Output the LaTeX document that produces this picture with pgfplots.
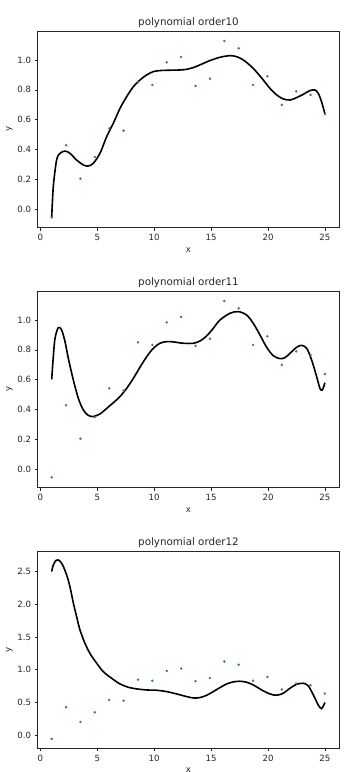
\documentclass[border=0pt]{standalone}
\usepackage{fontspec}
\setmainfont{DejaVu Sans}
\usepackage{pgfplots}
\usepackage{pgfplotstable}
\pgfplotsset{compat=1.18}
\definecolor{ptc}{HTML}{1F77B4}
\definecolor{txt}{HTML}{262626}

\pgfplotstableread{
x y
1.000 -0.054
2.263 0.429
3.526 0.205
4.789 0.350
6.053 0.542
7.316 0.527
8.579 0.850
9.842 0.833
11.105 0.984
12.368 1.020
13.632 0.826
14.895 0.875
16.158 1.127
17.421 1.078
18.684 0.833
19.947 0.891
21.211 0.699
22.474 0.790
23.737 0.766
25.000 0.638
}\pts

\pgfplotsset{
  myax/.style={
    width=301.6pt, height=196.7pt, scale only axis,
    anchor=south west,
    xmin=-0.23, xmax=26.26,
    xtick={0,5,10,15,20,25},
    tick align=outside, major tick length=3pt,
    tick style={txt, line width=0.6pt},
    axis line style={txt, line width=0.6pt},
    xtick pos=bottom, ytick pos=left,
    /pgf/number format/assume math mode=true,
    ticklabel style={font=\fontsize{8.6}{10}\selectfont, text=txt},
    label style={font=\fontsize{8.6}{10}\selectfont, text=txt},
    ylabel style={xshift=0pt, yshift=-2pt},
    title style={font=\fontsize{10.3}{12}\selectfont, text=txt, yshift=-6pt},
    xlabel={x}, ylabel={y},
    yticklabel style={/pgf/number format/.cd, fixed, fixed zerofill, precision=1},
    xticklabel style={/pgf/number format/.cd, fixed, precision=0},
  },
  pts/.style={only marks, mark=*, mark size=1pt, color=ptc},
  crv/.style={black, line width=1.6pt, smooth, tension=0.5, no marks},
}

\begin{document}
\begin{tikzpicture}
\begin{axis}[myax, at={(37.7pt,544.3pt)}, ymin=-0.123, ymax=1.194,
  ytick={0,0.2,0.4,0.6,0.8,1.0}, title={polynomial order10}]
\addplot[crv] coordinates {
(1.00,-0.054) (1.14,0.152) (1.43,0.33) (1.73,0.375) (2.17,0.39) (2.6,0.375)
(3.19,0.33) (3.78,0.297) (4.2,0.29) (4.65,0.308) (5.24,0.375) (5.83,0.487)
(6.41,0.576) (7.0,0.676) (7.58,0.754) (8.17,0.821) (8.75,0.866) (9.34,0.9)
(9.92,0.922) (10.5,0.929) (11.1,0.931) (12.27,0.933) (12.85,0.9375) (13.44,0.949)
(14.02,0.967) (14.9,0.996) (15.78,1.018) (16.66,1.029) (17.24,1.022) (17.83,1.0)
(18.7,0.944) (19.58,0.866) (20.17,0.81) (20.76,0.766) (21.34,0.739) (21.93,0.732)
(22.51,0.748) (23.1,0.77) (23.68,0.795) (24.12,0.799) (24.41,0.777) (24.7,0.721)
(25.0,0.638)};
\addplot[pts] table[x=x,y=y]{\pts};
\end{axis}

\begin{axis}[myax, at={(37.7pt,284.3pt)}, ymin=-0.123, ymax=1.194,
  ytick={0,0.2,0.4,0.6,0.8,1.0}, title={polynomial order11}]
\addplot[crv] coordinates {
(1.00,0.603) (1.14,0.754) (1.29,0.877) (1.58,0.949) (1.87,0.933) (2.17,0.855)
(2.46,0.743) (2.9,0.598) (3.34,0.475) (3.78,0.397) (4.2,0.362) (4.65,0.353)
(5.24,0.371) (5.83,0.408) (6.41,0.446) (7.0,0.487) (7.58,0.542) (8.17,0.609)
(8.75,0.683) (9.34,0.754) (9.92,0.81) (10.5,0.844) (11.1,0.855) (11.68,0.853)
(12.56,0.844) (13.44,0.844) (14.02,0.859) (14.61,0.893) (15.19,0.944) (15.78,1.0)
(16.66,1.045) (17.39,1.056) (18.12,1.033) (18.7,0.978) (19.29,0.9) (19.88,0.817)
(20.46,0.761) (21.05,0.741) (21.49,0.748) (21.93,0.777) (22.51,0.817) (22.95,0.830)
(23.4,0.81) (23.83,0.732) (24.27,0.621) (24.56,0.542) (24.77,0.531) (25.0,0.580)};
\addplot[pts] table[x=x,y=y]{\pts};
\end{axis}

\begin{axis}[myax, at={(37.7pt,23.7pt)}, ymin=-0.199, ymax=2.805,
  ytick={0,0.5,1.0,1.5,2.0,2.5}, title={polynomial order12}]
\addplot[crv] coordinates {
(1.00,2.5) (1.14,2.60) (1.38,2.67) (1.67,2.67) (1.96,2.60) (2.31,2.45)
(2.6,2.27) (2.9,2.02) (3.19,1.81) (3.48,1.61) (3.92,1.405) (4.36,1.25)
(4.95,1.10) (5.53,0.972) (6.26,0.871) (7.0,0.784) (7.73,0.733) (8.46,0.708)
(9.34,0.692) (10.22,0.687) (11.1,0.667) (11.97,0.631) (12.85,0.591) (13.44,0.570)
(14.02,0.575) (14.61,0.611) (15.19,0.667) (15.78,0.728) (16.36,0.784) (16.95,0.815)
(17.53,0.825) (18.12,0.81) (18.7,0.769) (19.29,0.708) (19.88,0.652) (20.46,0.616)
(20.9,0.616) (21.34,0.642) (21.93,0.718) (22.51,0.779) (23.1,0.794) (23.54,0.754)
(23.98,0.616) (24.41,0.463) (24.7,0.407) (25.0,0.50)};
\addplot[pts] table[x=x,y=y]{\pts};
\end{axis}
\pgfresetboundingbox
\path (0,0) rectangle (360pt,772pt);
\end{tikzpicture}
\end{document}
